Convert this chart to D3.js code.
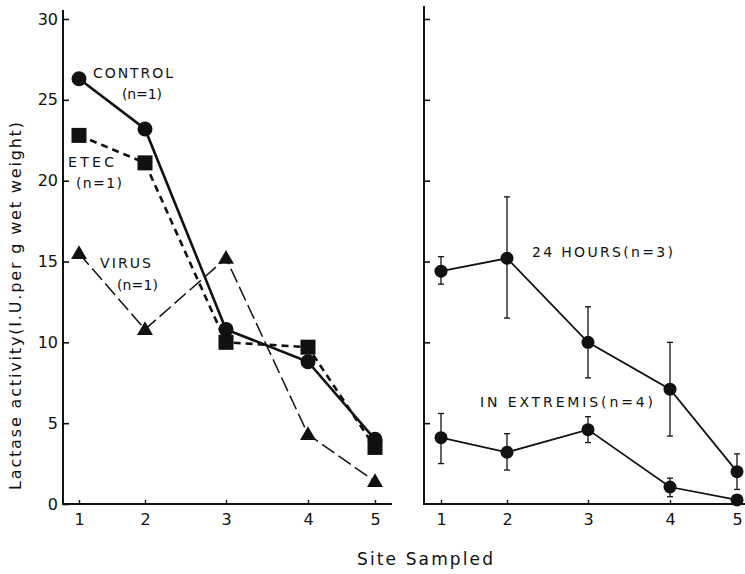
<!DOCTYPE html>
<html>
<head>
<meta charset="utf-8">
<script src="https://cdn.jsdelivr.net/npm/d3@7"></script>
<style>
  body { margin: 0; background: #fff; }
  svg { display: block; }
  text { font-family: "DejaVu Sans", sans-serif; fill: #111; }
</style>
</head>
<body>
<div id="chart-holder"></div>
<script>
// data
const sites = [1, 2, 3, 4, 5];
const yTicks = [0, 5, 10, 15, 20, 25, 30];

const control = [26.3, 23.2, 10.8, 8.8, 4.0];
const etec = [22.8, 21.1, 10.0, 9.7, 3.5];
const virus = [15.5, 10.8, 15.2, 4.3, 1.4];

const hours24 = [14.4, 15.2, 10.0, 7.1, 2.0];
const hours24Lo = [13.6, 11.5, 7.8, 4.2, 0.9];
const hours24Hi = [15.3, 19.0, 12.2, 10.0, 3.1];

const extremis = [4.1, 3.2, 4.6, 1.05, 0.25];
const extremisLo = [2.5, 2.1, 3.8, 0.45, 0.1];
const extremisHi = [5.6, 4.35, 5.4, 1.6, 0.4];

var width = 745, height = 574;

var svg = d3.select("#chart-holder").append("svg")
  .attr("width", width)
  .attr("height", height);

// shared y scale
var y = d3.scaleLinear().domain([0, 30]).range([504, 19]);

// sites are not evenly spaced on the original drawing
var siteSpacing = [0, 66, 147, 229, 296];
function makeX(x0) {
  return d3.scaleLinear().domain(sites).range(siteSpacing.map(function (d) { return x0 + d; }));
}
var xLeft = makeX(79);
var xRight = makeX(441);

// panel frames
function drawFrame(g, axisX, topY, endX, xScale, showYLabels, yVals) {
  g.append("line")
    .attr("x1", axisX).attr("x2", axisX)
    .attr("y1", topY).attr("y2", y(0))
    .attr("stroke", "#111").attr("stroke-width", 2);
  g.append("line")
    .attr("x1", axisX - 1).attr("x2", endX)
    .attr("y1", y(0)).attr("y2", y(0))
    .attr("stroke", "#111").attr("stroke-width", 2);

  var ya = d3.axisLeft(y)
    .tickValues(yVals)
    .tickSize(-6)
    .tickSizeOuter(0)
    .tickPadding(5)
    .tickFormat(showYLabels ? d3.format("d") : "");
  var gy = g.append("g")
    .attr("transform", "translate(" + axisX + ",0)")
    .call(ya);
  gy.select(".domain").remove();
  gy.selectAll("line").attr("stroke", "#111").attr("stroke-width", 1.6);
  gy.selectAll("text").style("font-size", "16px").style("font-family", "DejaVu Sans, sans-serif");

  var xa = d3.axisBottom(xScale)
    .tickValues(sites)
    .tickSize(-4)
    .tickSizeOuter(0)
    .tickPadding(10)
    .tickFormat(d3.format("d"));
  var gx = g.append("g")
    .attr("transform", "translate(0," + y(0) + ")")
    .call(xa);
  gx.select(".domain").remove();
  gx.selectAll("line").attr("stroke", "#111").attr("stroke-width", 1.4);
  gx.selectAll("text").style("font-size", "16px").style("font-family", "DejaVu Sans, sans-serif");
}

var left = svg.append("g");
var right = svg.append("g");
drawFrame(left, 63, 10, 392, xLeft, true, yTicks);
drawFrame(right, 424, 6, 745, xRight, false, yTicks.slice(1));

function series(vals) {
  return vals.map(function (v, i) { return { site: sites[i], v: v }; });
}

function drawLine(g, xScale, vals, w, dash) {
  var line = d3.line()
    .x(function (d) { return xScale(d.site); })
    .y(function (d) { return y(d.v); });
  g.append("path")
    .datum(series(vals))
    .attr("d", line)
    .attr("fill", "none")
    .attr("stroke", "#111")
    .attr("stroke-width", w)
    .attr("stroke-dasharray", dash);
}

// left panel
drawLine(left, xLeft, virus, 1.5, "15,5");
drawLine(left, xLeft, etec, 2.6, "7,5");
drawLine(left, xLeft, control, 2.6, null);

left.selectAll(".tri")
  .data(series(virus))
  .enter().append("path")
  .attr("class", "tri")
  .attr("d", d3.symbol().type(d3.symbolTriangle).size(110))
  .attr("transform", function (d) { return "translate(" + xLeft(d.site) + "," + (y(d.v) + 1) + ")"; })
  .attr("fill", "#111");

left.selectAll(".sq")
  .data(series(etec))
  .enter().append("rect")
  .attr("class", "sq")
  .attr("x", function (d) { return xLeft(d.site) - 7.5; })
  .attr("y", function (d) { return y(d.v) - 7.5; })
  .attr("width", 15).attr("height", 15)
  .attr("fill", "#111");

left.selectAll(".ci")
  .data(series(control))
  .enter().append("circle")
  .attr("class", "ci")
  .attr("cx", function (d) { return xLeft(d.site); })
  .attr("cy", function (d) { return y(d.v); })
  .attr("r", 7.5)
  .attr("fill", "#111");

// right panel, means with error bars
function drawErr(g, xScale, vals, lo, hi) {
  var data = vals.map(function (v, i) { return { site: sites[i], v: v, lo: lo[i], hi: hi[i] }; });
  var eb = g.append("g");
  data.forEach(function (d) {
    var cx = xScale(d.site);
    eb.append("line")
      .attr("x1", cx).attr("x2", cx)
      .attr("y1", y(d.lo)).attr("y2", y(d.hi))
      .attr("stroke", "#111").attr("stroke-width", 1.3);
    [d.lo, d.hi].forEach(function (e) {
      eb.append("line")
        .attr("x1", cx - 3).attr("x2", cx + 3)
        .attr("y1", y(e)).attr("y2", y(e))
        .attr("stroke", "#111").attr("stroke-width", 1.3);
    });
  });
  drawLine(g, xScale, vals, 1.8, null);
  g.selectAll(null)
    .data(data)
    .enter().append("circle")
    .attr("cx", function (d) { return xScale(d.site); })
    .attr("cy", function (d) { return y(d.v); })
    .attr("r", 6.5)
    .attr("fill", "#111");
}
drawErr(right, xRight, hours24, hours24Lo, hours24Hi);
drawErr(right, xRight, extremis, extremisLo, extremisHi);

// labels
function label(txt, x, yc, len, size) {
  svg.append("text")
    .attr("x", x)
    .attr("y", yc)
    .attr("dy", "0.36em")
    .attr("textLength", len)
    .attr("lengthAdjust", "spacing")
    .style("font-size", (size || 14) + "px")
    .text(txt);
}
label("CONTROL", 93, 73, 80);
label("(n=1)", 122, 94, 40);
label("ETEC", 68, 162, 46);
label("(n=1)", 76, 183, 46);
label("VIRUS", 100, 263, 51);
label("(n=1)", 117, 285, 41);
label("24 HOURS(n=3)", 532, 252, 141);
label("IN EXTREMIS(n=4)", 480, 402, 173);

svg.append("text")
  .attr("x", 357)
  .attr("y", 559)
  .attr("dy", "0.36em")
  .attr("textLength", 136)
  .attr("lengthAdjust", "spacing")
  .style("font-size", "17px")
  .text("Site Sampled");

svg.append("text")
  .attr("transform", "translate(21,490) rotate(-90)")
  .attr("textLength", 368)
  .attr("lengthAdjust", "spacing")
  .style("font-size", "16px")
  .text("Lactase activity(I.U.per g wet weight)");
</script>
</body>
</html>
